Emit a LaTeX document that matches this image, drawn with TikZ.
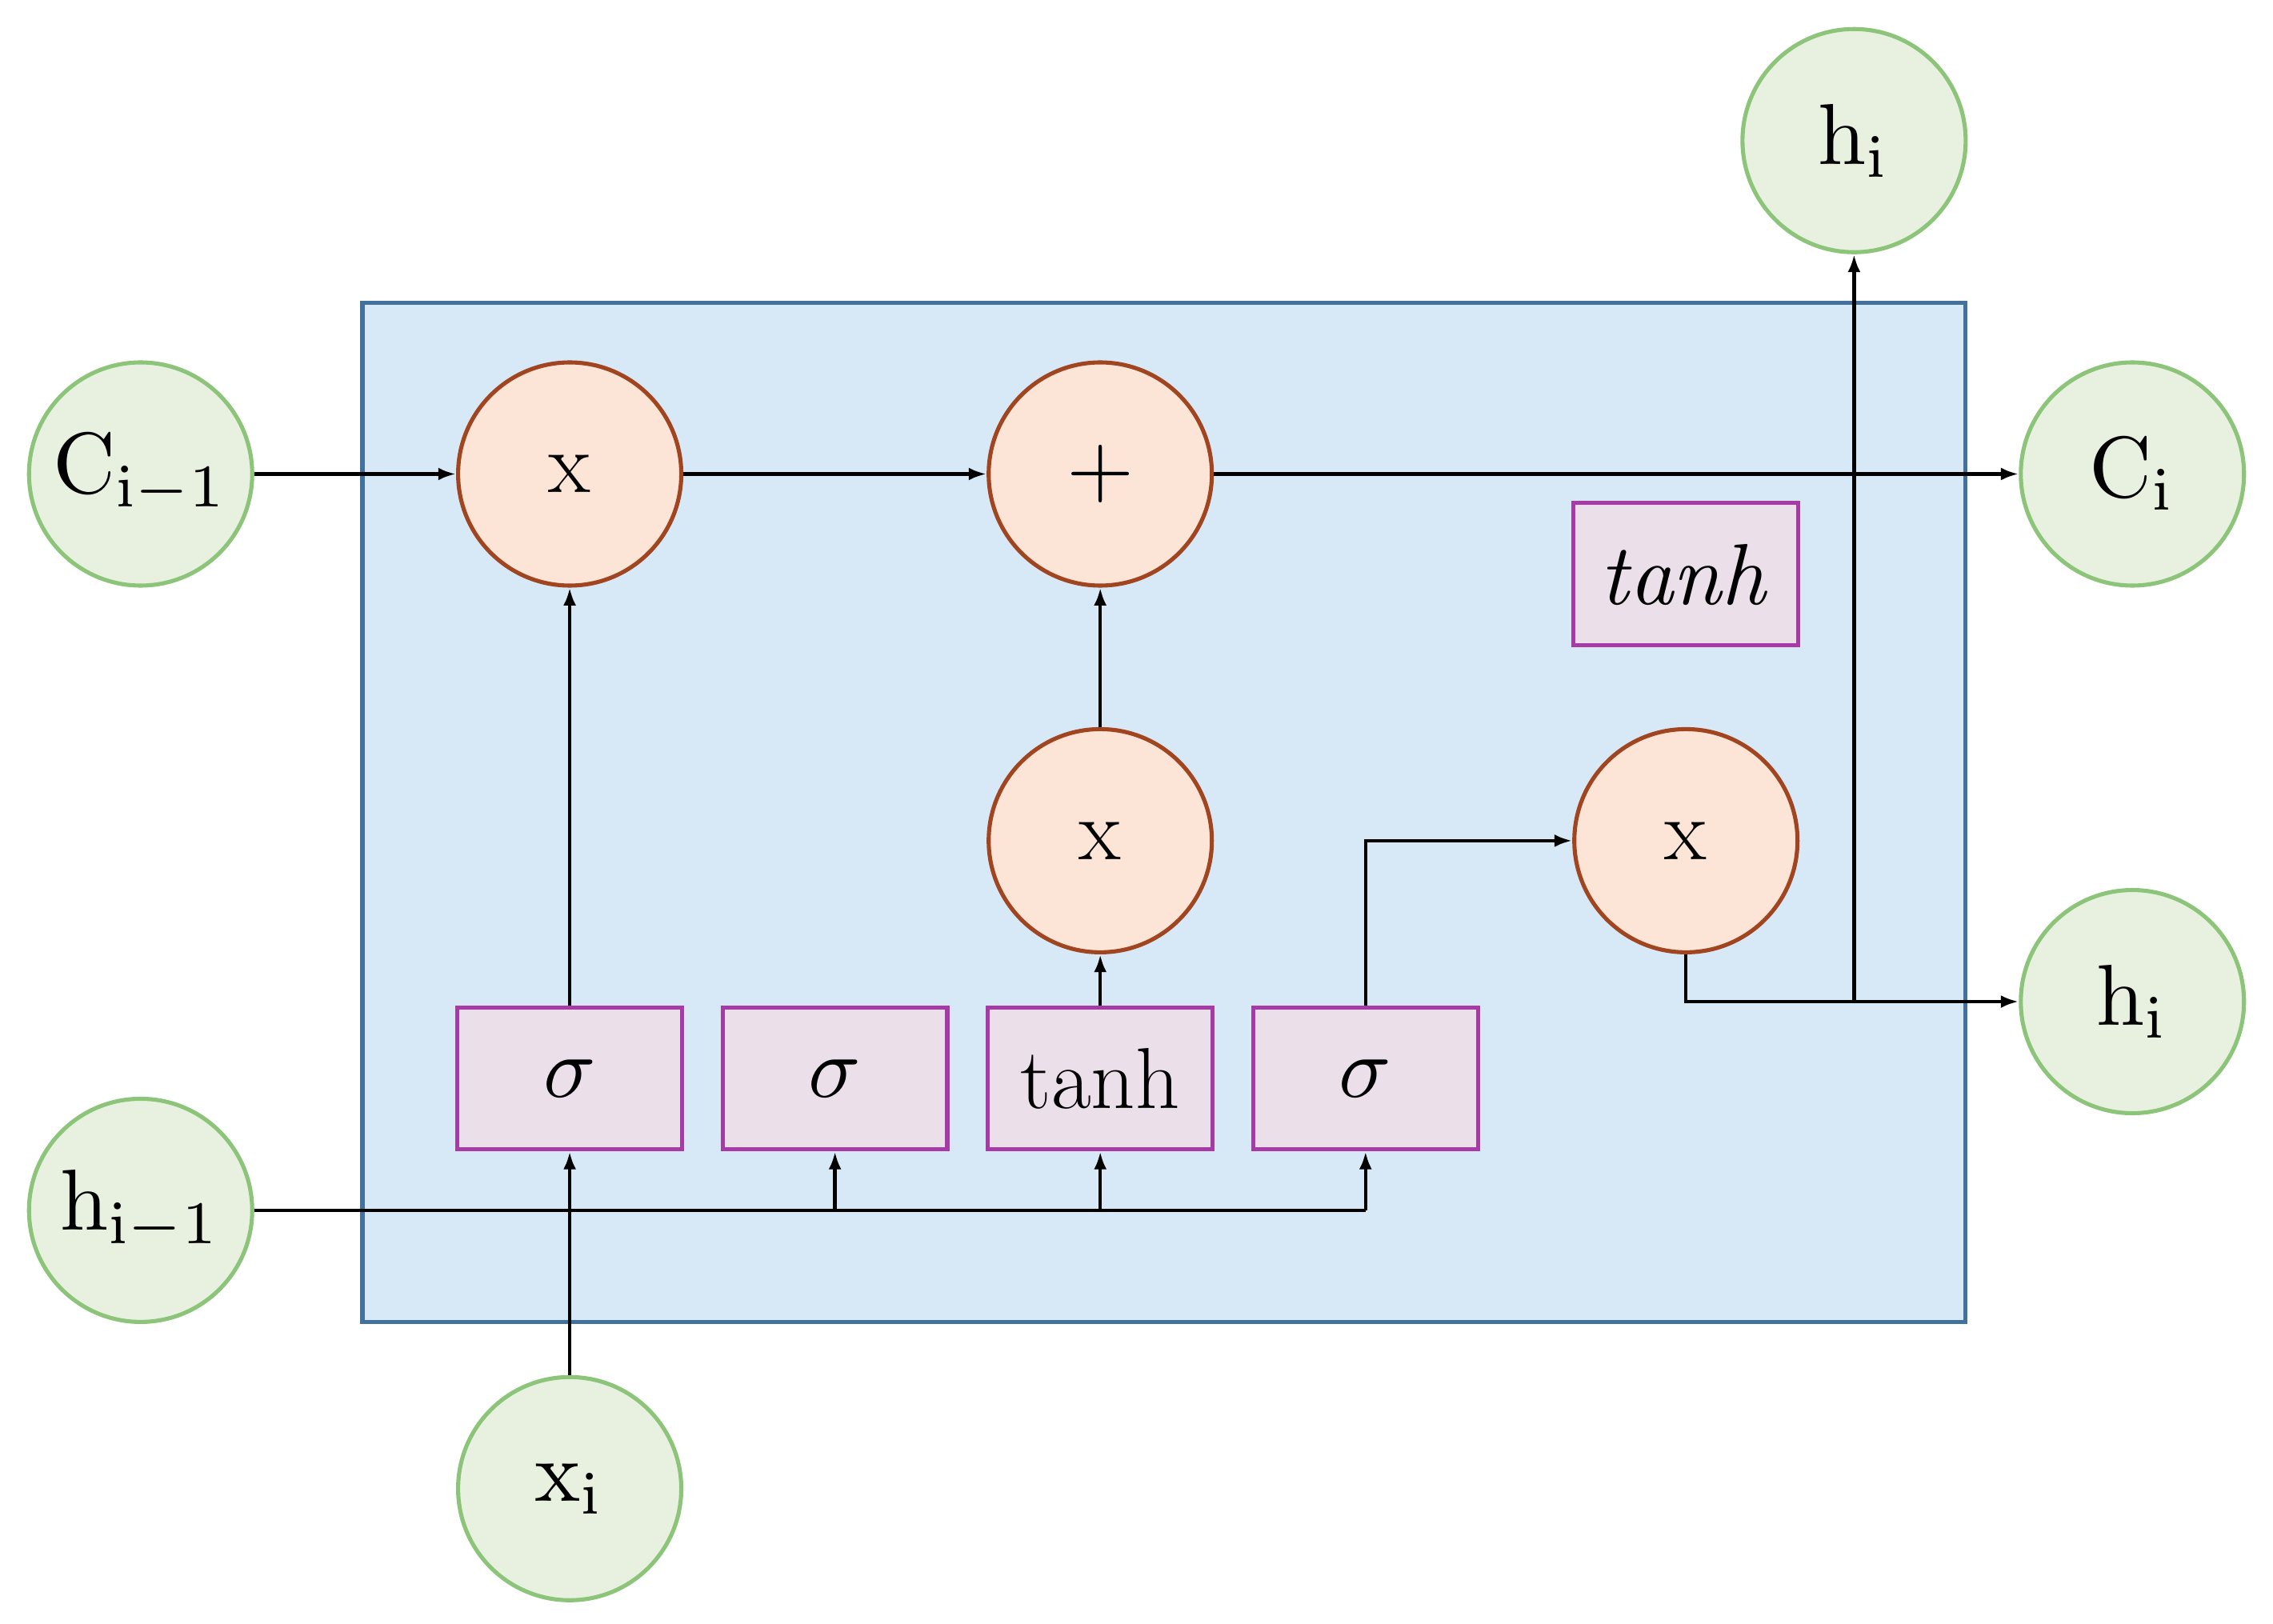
\documentclass[tikz,border=0pt]{standalone}
\usetikzlibrary{arrows.meta}
\definecolor{bfill}{HTML}{D7E9F6}
\definecolor{bdraw}{HTML}{41719C}
\definecolor{gfill}{HTML}{E8F1E0}
\definecolor{gdraw}{HTML}{8CC47A}
\definecolor{ofill}{HTML}{FCE4D6}
\definecolor{odraw}{HTML}{A0451F}
\definecolor{pfill}{HTML}{EBDFE9}
\definecolor{pdraw}{HTML}{A63AA6}
\newcommand\bigmath[1]{{\normalsize\scalebox{3.4}{$#1$}}}
\begin{document}
\begin{tikzpicture}[x=0.02cm,y=-0.02cm,
  font=\fontsize{34}{40}\selectfont,
  green/.style={circle,draw=gdraw,fill=gfill,line width=1.6pt,minimum size=3.08cm,inner sep=0pt},
  op/.style={circle,draw=odraw,fill=ofill,line width=1.6pt,minimum size=3.08cm,inner sep=0pt},
  gate/.style={rectangle,draw=pdraw,fill=pfill,line width=1.6pt,minimum width=3.1cm,minimum height=1.96cm,inner sep=0pt},
  arr/.style={-{Latex[length=7pt,width=5pt]},line width=1.4pt},
  ln/.style={line width=1.4pt}]
\useasboundingbox (0,0) rectangle (1568,1120);
\draw[fill=bfill,draw=bdraw,line width=1.6pt] (250,209) rectangle (1356,912);
\node[green] (cim) at (97,327) {\bigmath{\mathrm{C}_{\mathrm{i-1}}}};
\node[green] (him) at (97,835) {\bigmath{\mathrm{h}_{\mathrm{i-1}}}};
\node[green] (xi) at (393,1027) {\bigmath{\mathrm{x}_{\mathrm{i}}}};
\node[green] (hit) at (1279,97) {\bigmath{\mathrm{h}_{\mathrm{i}}}};
\node[green] (ci) at (1471,327) {\bigmath{\mathrm{C}_{\mathrm{i}}}};
\node[green] (hir) at (1471,691) {\bigmath{\mathrm{h}_{\mathrm{i}}}};
\node[op] (m1) at (393,327) {x};
\node[op] (pl) at (759,327) {\bigmath{+}};
\node[op] (m2) at (759,580) {x};
\node[op] (m3) at (1163,580) {x};
\node[gate] (s1) at (393,744) {\bigmath{\sigma}};
\node[gate] (s2) at (576,744) {\bigmath{\sigma}};
\node[gate] (th) at (759,744) {tanh};
\node[gate] (s3) at (942,744) {\bigmath{\sigma}};
\node[gate] (tc) at (1163,396) {\bigmath{\mathit{tanh}}};
\draw[arr] (cim) -- (m1);
\draw[arr] (m1) -- (pl);
\draw[arr] (pl) -- (ci);
\draw[arr] (s1) -- (m1);
\draw[arr] (xi) -- (s1);
\coordinate (e3) at (942,835);
\draw[ln] (him.east) -- (e3);
\draw[arr] (576,835) -- (s2);
\draw[arr] (759,835) -- (th);
\draw[arr] (e3) -- (s3);
\draw[arr] (th) -- (m2);
\draw[arr] (m2) -- (pl);
\draw[arr] (s3.north) |- (m3.west);
\coordinate (br) at (1279,691);
\draw[arr] (m3.south) |- (hir.west);
\draw[arr] (br) -- (hit);
\end{tikzpicture}
\end{document}
